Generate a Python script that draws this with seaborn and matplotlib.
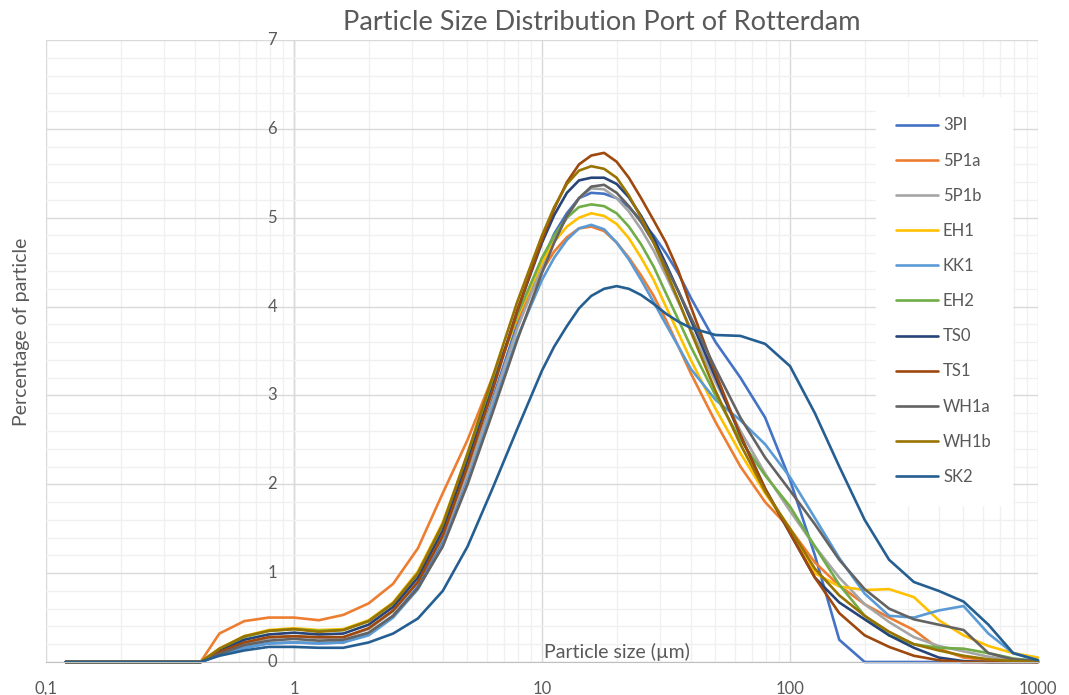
import pandas as pd
import matplotlib
matplotlib.use('Agg')
import matplotlib.pyplot as plt
import matplotlib.ticker as ticker
import matplotlib.transforms as mtransforms
import seaborn as sns

# particle size (um) and % per sample
sizes = [0.12, 0.42, 0.5, 0.63, 0.79, 1, 1.26, 1.58, 2, 2.51, 3.16, 3.98,
         5.01, 6.31, 7.94, 10, 11.2, 12.6, 14.1, 15.8, 17.8, 20, 22.4, 25.1,
         28.2, 31.6, 35.5, 39.8, 50.1, 63.1, 79.4, 100, 126, 158, 200, 251,
         316, 398, 501, 631, 794, 1000]

p_3PI = [0, 0, 0.08, 0.16, 0.21, 0.22, 0.21, 0.22, 0.32, 0.52, 0.85, 1.38,
         2.1, 2.95, 3.8, 4.5, 4.82, 5.05, 5.22, 5.28, 5.27, 5.22, 5.12, 4.97,
         4.8, 4.6, 4.37, 4.1, 3.6, 3.2, 2.75, 2.05, 1.2, 0.25, 0, 0,
         0, 0, 0, 0, 0, 0]
p_5P1a = [0, 0, 0.32, 0.46, 0.5, 0.5, 0.47, 0.53, 0.66, 0.88, 1.28, 1.9,
          2.5, 3.2, 3.85, 4.4, 4.62, 4.78, 4.88, 4.9, 4.85, 4.72, 4.55, 4.35,
          4.12, 3.85, 3.55, 3.25, 2.7, 2.2, 1.8, 1.5, 1.12, 0.86, 0.65, 0.5,
          0.36, 0.15, 0.05, 0.02, 0.01, 0]
p_5P1b = [0, 0, 0.1, 0.21, 0.27, 0.29, 0.27, 0.28, 0.37, 0.57, 0.9, 1.4,
          2.12, 2.92, 3.75, 4.45, 4.78, 5.0, 5.22, 5.33, 5.32, 5.22, 5.07, 4.87,
          4.63, 4.35, 4.05, 3.75, 3.15, 2.6, 2.12, 1.7, 1.3, 0.95, 0.65, 0.45,
          0.28, 0.18, 0.12, 0.06, 0.02, 0]
p_EH1 = [0, 0, 0.15, 0.29, 0.36, 0.38, 0.36, 0.37, 0.47, 0.67, 1.02, 1.57,
         2.33, 3.12, 3.88, 4.5, 4.73, 4.9, 5.0, 5.05, 5.02, 4.93, 4.77, 4.55,
         4.3, 4.0, 3.7, 3.4, 2.85, 2.35, 1.9, 1.5, 1.0, 0.85, 0.81, 0.82,
         0.73, 0.47, 0.3, 0.18, 0.1, 0.05]
p_KK1 = [0, 0, 0.08, 0.16, 0.21, 0.22, 0.21, 0.22, 0.3, 0.5, 0.82, 1.32,
         2.02, 2.85, 3.65, 4.3, 4.55, 4.75, 4.88, 4.92, 4.87, 4.72, 4.53, 4.3,
         4.05, 3.8, 3.55, 3.3, 2.95, 2.72, 2.45, 2.08, 1.62, 1.17, 0.77, 0.52,
         0.5, 0.58, 0.63, 0.32, 0.1, 0.02]
p_EH2 = [0, 0, 0.14, 0.28, 0.35, 0.37, 0.35, 0.36, 0.46, 0.66, 1.0, 1.55,
         2.32, 3.12, 3.9, 4.55, 4.8, 5.0, 5.12, 5.15, 5.13, 5.05, 4.9, 4.7,
         4.45, 4.15, 3.85, 3.55, 3.0, 2.5, 2.1, 1.75, 1.3, 0.87, 0.52, 0.3,
         0.2, 0.16, 0.15, 0.1, 0.04, 0.01]
p_TS0 = [0, 0, 0.12, 0.25, 0.31, 0.33, 0.31, 0.32, 0.42, 0.62, 0.95, 1.48,
         2.25, 3.08, 3.95, 4.72, 5.03, 5.28, 5.42, 5.45, 5.45, 5.38, 5.23, 5.02,
         4.77, 4.48, 4.17, 3.85, 3.2, 2.55, 1.95, 1.45, 0.95, 0.67, 0.48, 0.3,
         0.16, 0.05, 0.01, 0, 0, 0]
p_TS1 = [0, 0, 0.11, 0.22, 0.28, 0.29, 0.28, 0.28, 0.38, 0.58, 0.9, 1.42,
         2.2, 3.05, 3.95, 4.75, 5.1, 5.4, 5.6, 5.7, 5.73, 5.63, 5.45, 5.22,
         4.97, 4.72, 4.4, 4.0, 3.25, 2.55, 1.95, 1.45, 0.95, 0.55, 0.3, 0.17,
         0.07, 0.02, 0, 0, 0, 0]
p_WH1a = [0, 0, 0.09, 0.19, 0.24, 0.26, 0.24, 0.25, 0.33, 0.52, 0.83, 1.3,
          2.0, 2.8, 3.62, 4.38, 4.72, 5.02, 5.22, 5.35, 5.37, 5.28, 5.13, 4.95,
          4.72, 4.45, 4.17, 3.88, 3.3, 2.75, 2.3, 1.93, 1.55, 1.15, 0.82, 0.6,
          0.48, 0.42, 0.36, 0.1, 0.03, 0.01]
p_WH1b = [0, 0, 0.15, 0.29, 0.35, 0.37, 0.34, 0.36, 0.46, 0.66, 1.0, 1.55,
          2.35, 3.2, 4.05, 4.8, 5.12, 5.38, 5.53, 5.58, 5.55, 5.45, 5.25, 5.0,
          4.72, 4.4, 4.07, 3.72, 3.05, 2.45, 1.92, 1.5, 1.05, 0.75, 0.52, 0.34,
          0.2, 0.13, 0.07, 0.03, 0.01, 0]
p_SK2 = [0, 0, 0.07, 0.13, 0.17, 0.17, 0.16, 0.16, 0.22, 0.32, 0.49, 0.8,
         1.3, 1.95, 2.62, 3.28, 3.55, 3.78, 3.98, 4.12, 4.2, 4.23, 4.2, 4.13,
         4.03, 3.92, 3.83, 3.76, 3.68, 3.67, 3.58, 3.33, 2.8, 2.2, 1.6, 1.15,
         0.9, 0.8, 0.68, 0.42, 0.1, 0.02]

names = ['3PI', '5P1a', '5P1b', 'EH1', 'KK1', 'EH2', 'TS0', 'TS1', 'WH1a', 'WH1b', 'SK2']
series = [p_3PI, p_5P1a, p_5P1b, p_EH1, p_KK1, p_EH2, p_TS0, p_TS1, p_WH1a, p_WH1b, p_SK2]
colors = ['#4472C4', '#ED7D31', '#A5A5A5', '#FFC000', '#5B9BD5', '#70AD47',
          '#264478', '#9E480E', '#636363', '#997300', '#255E91']
xtick_vals = [0.1, 1, 10, 100, 1000]
xtick_text = ['0,1', '1', '10', '100', '1000']
ytick_vals = [0, 1, 2, 3, 4, 5, 6, 7]

# long format for seaborn
rows = []
for name, vals in zip(names, series):
    for s, v in zip(sizes, vals):
        rows.append([name, s, v])
df = pd.DataFrame(rows, columns=['Sample', 'Size', 'Percentage'])

sns.set_style('white')
plt.rcParams['font.family'] = ['Lato', 'DejaVu Sans']
grey_text = '#595959'

fig = plt.figure(figsize=(10.69, 6.95), dpi=100)
ax = fig.add_axes([46 / 1069, 1 - 662 / 695, (1038 - 46) / 1069, (662 - 40) / 695])

sns.lineplot(data=df, x='Size', y='Percentage', hue='Sample', hue_order=names,
             palette=dict(zip(names, colors)), linewidth=1.9, sort=False,
             estimator=None, ax=ax)
for ln in ax.lines:
    ln.set_clip_on(False)

ax.set_xscale('log')
ax.set_xlim(0.1, 1000)
ax.set_ylim(0, 7)

# gridlines
ax.set_xticks(xtick_vals)
ax.set_xticklabels(xtick_text)
ax.xaxis.set_minor_locator(ticker.LogLocator(base=10, subs=range(2, 10)))
ax.xaxis.set_minor_formatter(ticker.NullFormatter())
ax.set_yticks(ytick_vals)
ax.yaxis.set_minor_locator(ticker.MultipleLocator(0.2))
ax.grid(which='major', color='#d9d9d9', linewidth=1)
ax.grid(which='minor', color='#f0f0f0', linewidth=1)
ax.set_axisbelow(True)

for side in ['top', 'right', 'left']:
    ax.spines[side].set_visible(False)
ax.spines['bottom'].set_color('#bfbfbf')
ax.tick_params(which='both', length=0)
ax.tick_params(axis='y', labelleft=False)
ax.tick_params(axis='x', pad=13.5, labelsize=12, labelcolor=grey_text)
ax.set_xlabel('')
ax.set_ylabel('')

# y axis crosses at x = 1: its labels sit just left of that line
ax.axvline(1, color='#d4d4d4', linewidth=1, zorder=0.5)
offset = mtransforms.ScaledTranslation(-17 / 100, 0, fig.dpi_scale_trans)
for v in ytick_vals:
    ax.text(1, v, str(v), transform=ax.transData + offset, ha='right',
            va='center', fontsize=12, color=grey_text)

fig.text(602 / 1069, 1 - 23 / 695, 'Particle Size Distribution Port of Rotterdam',
         ha='center', va='center', fontsize=19.5, color=grey_text)
fig.text(617 / 1069, 1 - 652 / 695, 'Particle size (µm)', ha='center', va='center',
         fontsize=14, color=grey_text)
fig.text(22 / 1069, 1 - 332 / 695, 'Percentage of particle', ha='center', va='center',
         rotation=90, fontsize=14, color=grey_text)

leg = ax.legend(loc='upper left', bbox_to_anchor=(868 / 1069, 1 - 89 / 695),
                bbox_transform=fig.transFigure, frameon=True, fontsize=12,
                handlelength=2.5, handletextpad=0.3, labelspacing=1.15,
                borderpad=1.2, fancybox=False)
leg.get_frame().set_facecolor('white')
leg.get_frame().set_edgecolor('white')
leg.get_frame().set_alpha(1)
for t in leg.get_texts():
    t.set_color(grey_text)

fig.savefig('out.png', dpi=100)
